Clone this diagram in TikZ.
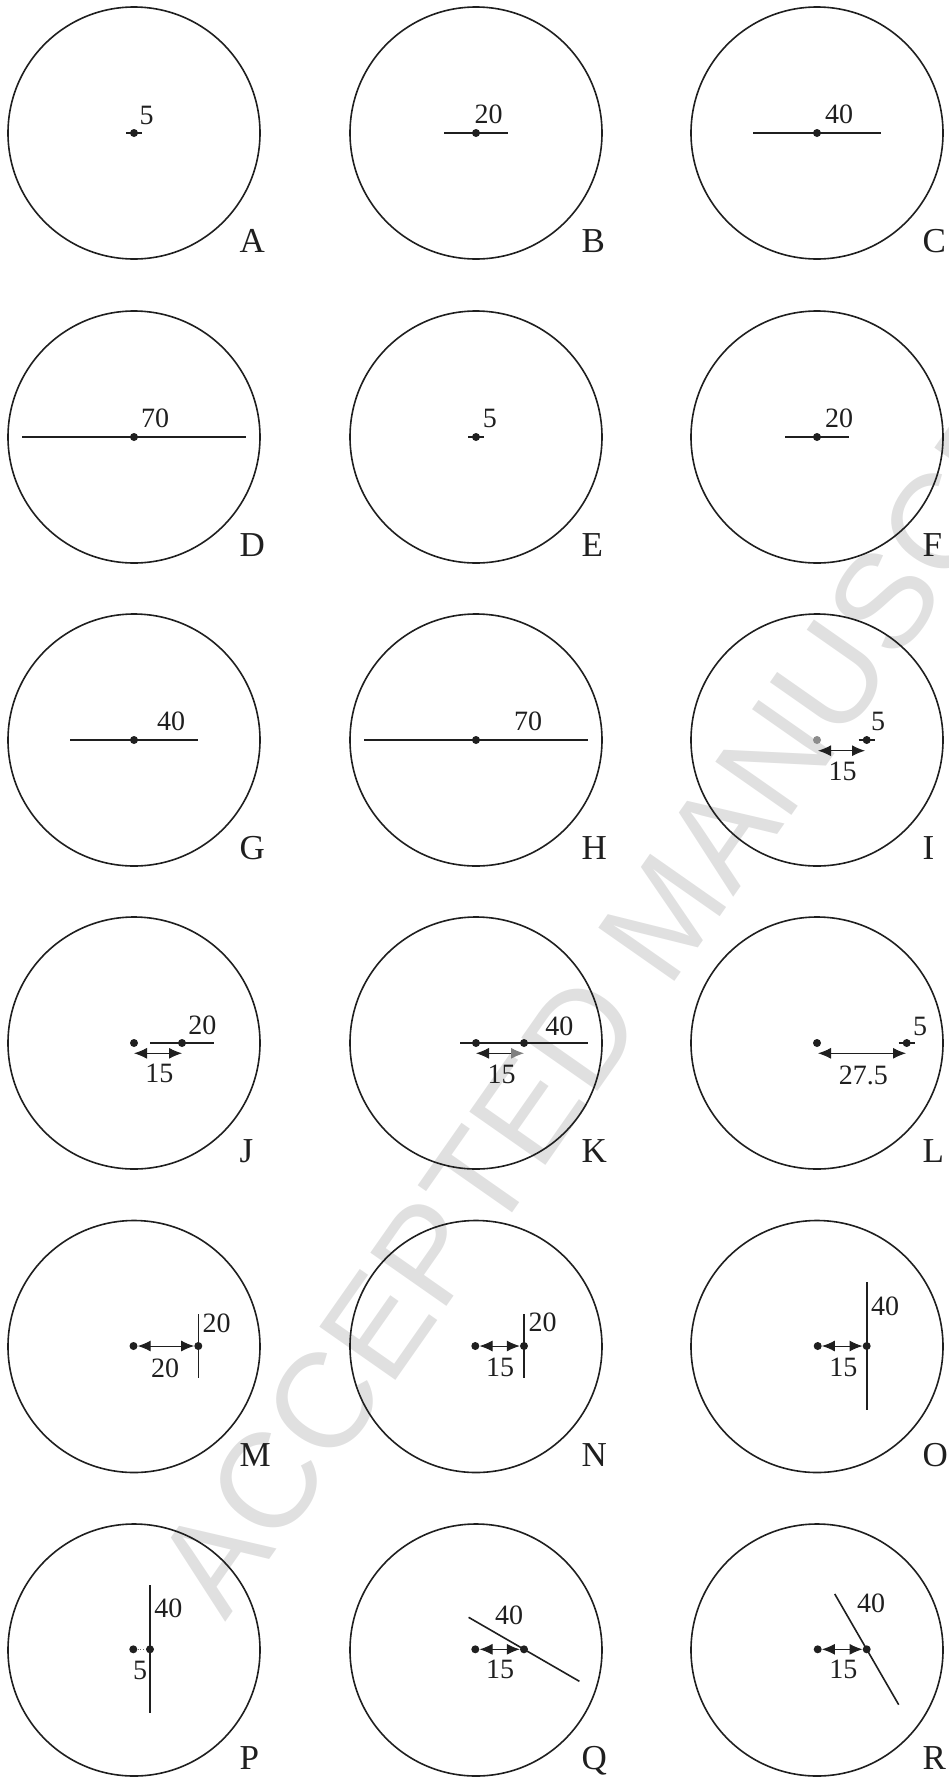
\documentclass[tikz,border=0pt]{standalone}
\usepackage{fontspec}
\setmainfont{Liberation Serif}
\newfontfamily\wmfont{Liberation Sans}
\usetikzlibrary{arrows.meta}
\tikzset{
 ring/.style={circle, draw=black!88, line width=1.6pt, minimum size=252pt, inner sep=0pt},
 seg/.style={draw=black!88, line width=1.6pt},
 dim/.style={draw=black!88, line width=1pt, {Latex[length=13pt,width=11pt]}-{Latex[length=13pt,width=11pt]}},
 num/.style={inner sep=0pt, text=black!88, font=\fontsize{28}{30}\selectfont},
 lett/.style={inner sep=0pt, anchor=base west, text=black!88, font=\fontsize{35}{40}\selectfont},
 dotnode/.style={circle, fill=black!88, inner sep=0pt, minimum size=8pt},
 wm/.style={anchor=west, rotate=55, inner sep=0pt, text=black!12, font=\wmfont\fontsize{135}{135}\selectfont},
}
\begin{document}
\begin{tikzpicture}[x=1pt,y=-1pt]
\useasboundingbox (0,0) rectangle (949,1778);
\node[wm] (wm) at (187.6,1596.3) {ACCEPTED MANUSCRIPT};
% A
\node[ring] (kA) at (134,133) {};
\node[dotnode] (dA) at (134,133) {};
\coordinate (sA1) at (126,133); \coordinate (sA2) at (142,133);
\draw[seg] (sA1) -- (sA2);
\node[num] (nA) at (146.7,115) {5};
\node[lett] (lA) at (239.5,252.7) {A};
% B
\node[ring] (kB) at (476,133) {};
\node[dotnode] (dB) at (476,133) {};
\coordinate (sB1) at (444,133); \coordinate (sB2) at (508,133);
\draw[seg] (sB1) -- (sB2);
\node[num] (nB) at (488.7,114.5) {20};
\node[lett] (lB) at (581.5,252.7) {B};
% C
\node[ring] (kC) at (817,133) {};
\node[dotnode] (dC) at (817,133) {};
\coordinate (sC1) at (753,133); \coordinate (sC2) at (881,133);
\draw[seg] (sC1) -- (sC2);
\node[num] (nC) at (839,114.5) {40};
\node[lett] (lC) at (922.5,252.7) {C};
% D
\node[ring] (kD) at (134,437) {};
\node[dotnode] (dD) at (134,437) {};
\coordinate (sD1) at (22,437); \coordinate (sD2) at (246,437);
\draw[seg] (sD1) -- (sD2);
\node[num] (nD) at (155,418.3) {70};
\node[lett] (lD) at (239.5,556.7) {D};
% E
\node[ring] (kE) at (476,437) {};
\node[dotnode] (dE) at (476,437) {};
\coordinate (sE1) at (468,437); \coordinate (sE2) at (484,437);
\draw[seg] (sE1) -- (sE2);
\node[num] (nE) at (489.8,418.4) {5};
\node[lett] (lE) at (581.5,556.7) {E};
% F
\node[ring] (kF) at (817,437) {};
\node[dotnode] (dF) at (817,437) {};
\coordinate (sF1) at (785,437); \coordinate (sF2) at (849,437);
\draw[seg] (sF1) -- (sF2);
\node[num] (nF) at (839,418.4) {20};
\node[lett] (lF) at (922.5,556.7) {F};
% G
\node[ring] (kG) at (134,740) {};
\node[dotnode] (dG) at (134,740) {};
\coordinate (sG1) at (70,740); \coordinate (sG2) at (198,740);
\draw[seg] (sG1) -- (sG2);
\node[num] (nG) at (171,721) {40};
\node[lett] (lG) at (239.5,859.7) {G};
% H
\node[ring] (kH) at (476,740) {};
\node[dotnode] (dH) at (476,740) {};
\coordinate (sH1) at (364,740); \coordinate (sH2) at (588,740);
\draw[seg] (sH1) -- (sH2);
\node[num] (nH) at (528,721) {70};
\node[lett] (lH) at (581.5,859.7) {H};
% I
\node[ring] (kI) at (817,740) {};
\node[dotnode, fill=black!45] (dI0) at (817,740) {};
\node[dotnode] (dI1) at (866.7,740) {};
\coordinate (sI1) at (858.7,740); \coordinate (sI2) at (874.7,740);
\draw[seg] (sI1) -- (sI2);
\node[num] (nI) at (878,721.7) {5};
\coordinate (aI1) at (818,750.7); \coordinate (aI2) at (865,750.7);
\draw[dim] (aI1) -- (aI2);
\node[num] (mI) at (842.7,771.7) {15};
\node[lett] (lI) at (922.5,859.7) {I};
% J
\node[ring] (kJ) at (134,1043) {};
\node[dotnode] (dJ0) at (134,1043) {};
\node[dotnode] (dJ1) at (182,1043) {};
\coordinate (sJ1) at (150,1043); \coordinate (sJ2) at (214,1043);
\draw[seg] (sJ1) -- (sJ2);
\node[num] (nJ) at (202.3,1025) {20};
\coordinate (aJ1) at (134,1053.3); \coordinate (aJ2) at (182,1053.3);
\draw[dim] (aJ1) -- (aJ2);
\node[num] (mJ) at (159.3,1073.3) {15};
\node[lett] (lJ) at (239.5,1162.7) {J};
% K
\node[ring] (kK) at (476,1043) {};
\node[dotnode] (dK0) at (476,1043) {};
\node[dotnode] (dK1) at (524,1043) {};
\coordinate (sK1) at (460,1043); \coordinate (sK2) at (588,1043);
\draw[seg] (sK1) -- (sK2);
\node[num] (nK) at (559.3,1026) {40};
\coordinate (aK1) at (476,1053.3); \coordinate (aK2) at (524,1053.3);
\draw[dim, {Latex[length=13pt,width=11pt]}-{Latex[length=13pt,width=11pt,color=black!50]}] (aK1) -- (aK2);
\node[num] (mK) at (501.7,1074) {15};
\node[lett] (lK) at (581.5,1162.7) {K};
% L
\node[ring] (kL) at (817,1043) {};
\node[dotnode] (dL0) at (817,1043) {};
\node[dotnode] (dL1) at (906.7,1043) {};
\coordinate (sL1) at (898.7,1043); \coordinate (sL2) at (914.7,1043);
\draw[seg] (sL1) -- (sL2);
\node[num] (nL) at (920,1026.7) {5};
\coordinate (aL1) at (818,1053.3); \coordinate (aL2) at (906,1053.3);
\draw[dim] (aL1) -- (aL2);
\node[num] (mL) at (863.3,1075.7) {27.5};
\node[lett] (lL) at (922.5,1162.7) {L};
% M
\node[ring] (kM) at (134,1346.5) {};
\node[dotnode] (dM0) at (133.5,1346) {};
\node[dotnode] (dM1) at (198.3,1346) {};
\coordinate (sM1) at (198.3,1314.3); \coordinate (sM2) at (198.3,1378.3);
\draw[seg] (sM1) -- (sM2);
\node[num] (nM) at (216.7,1323.3) {20};
\draw[dim] (dM0) -- (dM1);
\node[num] (mM) at (165,1368.3) {20};
\node[lett] (lM) at (239.5,1466) {M};
% N
\node[ring] (kN) at (476,1346.5) {};
\node[dotnode] (dN0) at (475.3,1346) {};
\node[dotnode] (dN1) at (524,1346) {};
\coordinate (sN1) at (524,1314); \coordinate (sN2) at (524,1378);
\draw[seg] (sN1) -- (sN2);
\node[num] (nN) at (542.7,1322.7) {20};
\draw[dim] (dN0) -- (dN1);
\node[num] (mN) at (500,1367.3) {15};
\node[lett] (lN) at (581.5,1466) {N};
% O
\node[ring] (kO) at (817,1346.5) {};
\node[dotnode] (dO0) at (817.7,1346) {};
\node[dotnode] (dO1) at (866.7,1346) {};
\coordinate (sO1) at (866.7,1282); \coordinate (sO2) at (866.7,1410);
\draw[seg] (sO1) -- (sO2);
\node[num] (nO) at (885,1306) {40};
\draw[dim] (dO0) -- (dO1);
\node[num] (mO) at (843.3,1367.3) {15};
\node[lett] (lO) at (922.5,1466) {O};
% P
\node[ring] (kP) at (134,1650) {};
\node[dotnode] (dP0) at (133.3,1649.3) {};
\node[dotnode] (dP1) at (150,1649.3) {};
\coordinate (sP1) at (150,1585); \coordinate (sP2) at (150,1713);
\draw[seg] (sP1) -- (sP2);
\node[num] (nP) at (168.3,1608.3) {40};
\draw[draw=black!60, line width=0.8pt, dotted] (dP0) -- (dP1);
\node[num] (mP) at (140,1670) {5};
\node[lett] (lP) at (239.5,1769.7) {P};
% Q
\node[ring] (kQ) at (476,1650) {};
\node[dotnode] (dQ0) at (475.3,1649.3) {};
\node[dotnode] (dQ1) at (524,1649.3) {};
\coordinate (sQ1) at (468.6,1617.3); \coordinate (sQ2) at (579.4,1681.3);
\draw[seg] (sQ1) -- (sQ2);
\node[num] (nQ) at (509,1615) {40};
\draw[dim] (dQ0) -- (dQ1);
\node[num] (mQ) at (500,1669.3) {15};
\node[lett] (lQ) at (581.5,1769.7) {Q};
% R
\node[ring] (kR) at (817,1650) {};
\node[dotnode] (dR0) at (817.7,1649.3) {};
\node[dotnode] (dR1) at (866.7,1649.3) {};
\coordinate (sR1) at (834.7,1593.9); \coordinate (sR2) at (898.7,1704.7);
\draw[seg] (sR1) -- (sR2);
\node[num] (nR) at (871,1603.3) {40};
\draw[dim] (dR0) -- (dR1);
\node[num] (mR) at (843.3,1669.3) {15};
\node[lett] (lR) at (922.5,1769.7) {R};
\end{tikzpicture}
\end{document}
